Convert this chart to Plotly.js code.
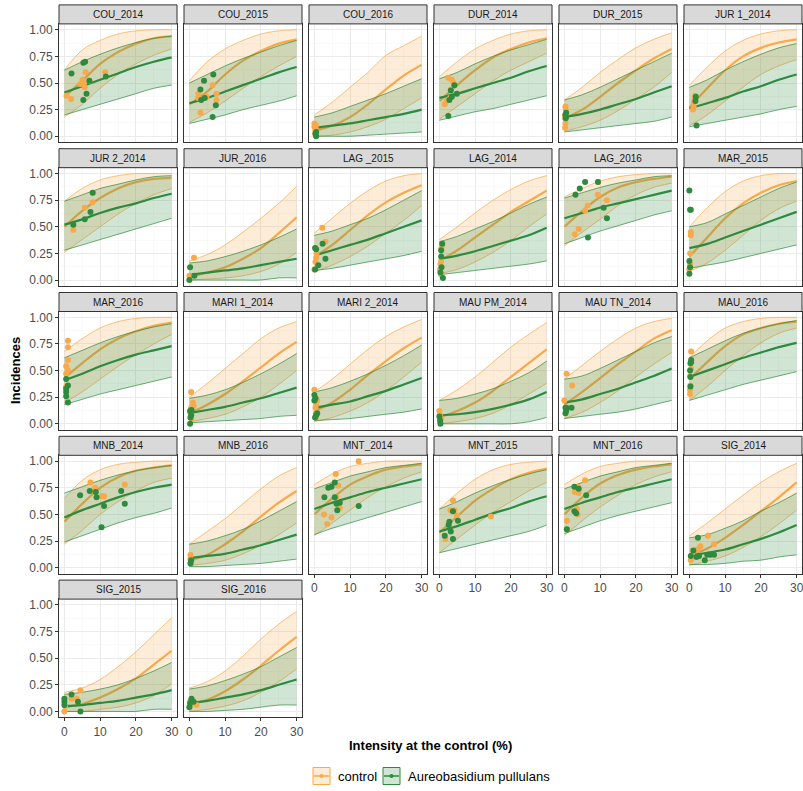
<!DOCTYPE html>
<html><head><meta charset="utf-8">
<script src="https://cdn.plot.ly/plotly-3.0.1.min.js"></script>
<style>body{margin:0;background:#fff}#chart{width:803px;height:791px}</style>
</head><body><div id="chart"></div>
<script>
const panelNames = ["COU_2014","COU_2015","COU_2016","DUR_2014","DUR_2015","JUR 1_2014","JUR 2_2014","JUR_2016","LAG _2015","LAG_2014","LAG_2016","MAR_2015","MAR_2016","MARI 1_2014","MARI 2_2014","MAU PM_2014","MAU TN_2014","MAU_2016","MNB_2014","MNB_2016","MNT_2014","MNT_2015","MNT_2016","SIG_2014","SIG_2015","SIG_2016"];
const xGrid = [0,5,10,15,20,25,30];
const xTicks = [0,10,20,30];
const yTicks = [0,0.25,0.5,0.75,1];
const yTickText = ["0.00","0.25","0.50","0.75","1.00"];
const seriesNames = ["control","Aureobasidium pullulans"];

const ctrlHi = [
[0.62,0.81,0.90,0.96,0.99,1.0,1.0],[0.52,0.70,0.82,0.90,0.96,0.99,1.0],[0.20,0.32,0.46,0.60,0.76,0.85,0.94],
[0.56,0.70,0.82,0.90,0.96,0.99,1.0],[0.34,0.46,0.60,0.72,0.83,0.91,0.97],[0.48,0.65,0.80,0.90,0.96,0.99,1.0],
[0.74,0.86,0.94,0.98,1.0,1.0,1.0],[0.18,0.24,0.33,0.45,0.58,0.72,0.88],[0.44,0.58,0.72,0.84,0.93,0.98,1.0],
[0.38,0.50,0.63,0.75,0.85,0.93,0.98],[0.78,0.86,0.93,0.97,0.99,1.0,1.0],[0.50,0.68,0.83,0.93,0.98,1.0,1.0],
[0.68,0.80,0.90,0.96,0.99,1.0,1.0],[0.25,0.38,0.52,0.66,0.80,0.90,0.96],[0.30,0.42,0.56,0.70,0.82,0.91,0.98],
[0.22,0.32,0.44,0.58,0.72,0.84,0.95],[0.42,0.55,0.68,0.80,0.90,0.96,0.99],[0.62,0.78,0.90,0.96,0.99,1.0,1.0],
[0.65,0.82,0.92,0.97,0.99,1.0,1.0],[0.22,0.34,0.46,0.60,0.74,0.86,0.94],[0.78,0.88,0.95,0.98,1.0,1.0,1.0],
[0.55,0.70,0.83,0.92,0.97,0.99,1.0],[0.78,0.88,0.95,0.98,1.0,1.0,1.0],[0.30,0.42,0.55,0.68,0.80,0.90,0.98],
[0.18,0.22,0.30,0.42,0.56,0.72,0.88],[0.22,0.28,0.38,0.52,0.68,0.82,0.94]];
const ctrlMid = [
[0.37,0.52,0.68,0.79,0.87,0.92,0.94],[0.30,0.42,0.58,0.71,0.80,0.87,0.91],[0.05,0.10,0.18,0.30,0.44,0.57,0.67],
[0.33,0.48,0.62,0.74,0.82,0.88,0.92],[0.17,0.25,0.37,0.50,0.62,0.73,0.82],[0.27,0.45,0.62,0.75,0.83,0.88,0.91],
[0.50,0.65,0.77,0.86,0.92,0.95,0.96],[0.03,0.07,0.12,0.20,0.30,0.44,0.59],[0.22,0.33,0.47,0.61,0.73,0.82,0.89],
[0.18,0.28,0.40,0.52,0.64,0.74,0.84],[0.50,0.65,0.78,0.87,0.92,0.95,0.97],[0.22,0.40,0.58,0.72,0.82,0.89,0.93],
[0.43,0.57,0.70,0.80,0.87,0.92,0.95],[0.10,0.18,0.28,0.40,0.53,0.66,0.77],[0.12,0.20,0.32,0.46,0.59,0.71,0.81],
[0.06,0.12,0.20,0.31,0.44,0.57,0.70],[0.18,0.30,0.43,0.56,0.68,0.80,0.88],[0.42,0.58,0.73,0.84,0.90,0.94,0.96],
[0.43,0.60,0.75,0.85,0.91,0.94,0.96],[0.07,0.12,0.22,0.34,0.48,0.61,0.72],[0.50,0.65,0.78,0.86,0.92,0.95,0.97],
[0.33,0.48,0.63,0.74,0.83,0.89,0.93],[0.50,0.66,0.79,0.87,0.92,0.95,0.97],[0.11,0.18,0.28,0.40,0.53,0.66,0.80],
[0.04,0.07,0.13,0.21,0.31,0.44,0.57],[0.07,0.11,0.19,0.30,0.43,0.57,0.70]];
const ctrlLo = [
[0.18,0.30,0.45,0.58,0.68,0.76,0.82],[0.13,0.22,0.33,0.45,0.56,0.66,0.75],[0.0,0.01,0.04,0.09,0.16,0.26,0.36],
[0.16,0.28,0.40,0.52,0.62,0.70,0.78],[0.05,0.09,0.15,0.24,0.35,0.46,0.60],[0.10,0.20,0.33,0.46,0.58,0.66,0.72],
[0.26,0.38,0.50,0.62,0.72,0.80,0.86],[0.0,0.01,0.02,0.04,0.08,0.15,0.26],[0.08,0.14,0.22,0.32,0.44,0.56,0.70],
[0.06,0.10,0.17,0.26,0.37,0.50,0.62],[0.32,0.45,0.57,0.70,0.80,0.87,0.91],[0.08,0.16,0.28,0.42,0.56,0.67,0.74],
[0.20,0.30,0.42,0.54,0.65,0.75,0.84],[0.02,0.05,0.09,0.16,0.25,0.37,0.50],[0.02,0.06,0.12,0.20,0.31,0.44,0.58],
[0.0,0.02,0.05,0.10,0.18,0.28,0.38],[0.05,0.11,0.20,0.31,0.44,0.56,0.67],[0.22,0.35,0.50,0.64,0.76,0.85,0.90],
[0.22,0.35,0.50,0.62,0.72,0.80,0.84],[0.02,0.04,0.07,0.13,0.21,0.31,0.42],[0.30,0.42,0.54,0.66,0.76,0.84,0.90],
[0.14,0.27,0.40,0.52,0.62,0.72,0.80],[0.30,0.44,0.57,0.68,0.78,0.85,0.90],[0.02,0.06,0.11,0.19,0.29,0.41,0.54],
[0.0,0.0,0.02,0.04,0.08,0.15,0.26],[0.0,0.02,0.05,0.10,0.18,0.28,0.40]];
const apHi = [
[0.62,0.70,0.77,0.83,0.88,0.92,0.94],[0.50,0.58,0.66,0.73,0.79,0.85,0.90],[0.18,0.22,0.28,0.34,0.40,0.47,0.54],
[0.54,0.60,0.68,0.75,0.81,0.86,0.91],[0.34,0.39,0.46,0.54,0.62,0.70,0.78],[0.46,0.53,0.62,0.70,0.77,0.83,0.87],
[0.74,0.80,0.86,0.90,0.94,0.97,0.98],[0.16,0.18,0.22,0.27,0.33,0.40,0.48],[0.42,0.46,0.52,0.58,0.66,0.75,0.84],
[0.36,0.41,0.48,0.55,0.63,0.71,0.78],[0.77,0.82,0.87,0.91,0.94,0.97,0.98],[0.50,0.54,0.62,0.70,0.78,0.86,0.92],
[0.62,0.69,0.76,0.82,0.87,0.91,0.94],[0.24,0.27,0.32,0.39,0.47,0.56,0.66],[0.30,0.34,0.40,0.47,0.55,0.64,0.74],
[0.22,0.24,0.28,0.33,0.40,0.48,0.59],[0.42,0.45,0.52,0.60,0.68,0.76,0.82],[0.62,0.70,0.78,0.85,0.90,0.94,0.97],
[0.70,0.76,0.82,0.87,0.91,0.94,0.96],[0.22,0.25,0.30,0.36,0.44,0.53,0.62],[0.74,0.80,0.86,0.90,0.94,0.96,0.98],
[0.55,0.62,0.70,0.77,0.83,0.88,0.92],[0.74,0.80,0.86,0.90,0.94,0.96,0.98],[0.28,0.31,0.37,0.44,0.53,0.61,0.70],
[0.16,0.18,0.21,0.25,0.31,0.38,0.46],[0.21,0.24,0.29,0.35,0.42,0.51,0.60]];
const apMid = [
[0.41,0.47,0.53,0.59,0.65,0.70,0.74],[0.31,0.36,0.42,0.48,0.54,0.60,0.65],[0.08,0.10,0.12,0.15,0.18,0.21,0.25],
[0.36,0.40,0.45,0.50,0.55,0.61,0.66],[0.18,0.21,0.25,0.30,0.35,0.41,0.47],[0.26,0.31,0.36,0.42,0.47,0.53,0.58],
[0.52,0.57,0.63,0.68,0.72,0.77,0.81],[0.05,0.07,0.09,0.11,0.14,0.17,0.20],[0.23,0.28,0.33,0.38,0.44,0.50,0.56],
[0.20,0.23,0.27,0.32,0.37,0.42,0.49],[0.58,0.63,0.68,0.72,0.76,0.80,0.84],[0.30,0.34,0.40,0.46,0.52,0.58,0.64],
[0.41,0.47,0.54,0.60,0.65,0.69,0.73],[0.10,0.13,0.16,0.20,0.24,0.29,0.34],[0.15,0.18,0.21,0.26,0.31,0.37,0.43],
[0.08,0.09,0.11,0.14,0.18,0.23,0.30],[0.20,0.23,0.28,0.33,0.39,0.45,0.52],[0.44,0.50,0.56,0.62,0.67,0.72,0.76],
[0.47,0.54,0.60,0.66,0.71,0.75,0.78],[0.09,0.11,0.13,0.17,0.21,0.26,0.31],[0.55,0.61,0.66,0.71,0.75,0.79,0.83],
[0.34,0.39,0.45,0.51,0.56,0.62,0.67],[0.55,0.61,0.66,0.71,0.75,0.79,0.83],[0.11,0.14,0.17,0.22,0.27,0.33,0.40],
[0.05,0.06,0.08,0.10,0.13,0.16,0.20],[0.08,0.10,0.13,0.16,0.20,0.25,0.30]];
const apLo = [
[0.20,0.25,0.30,0.35,0.40,0.45,0.48],[0.12,0.16,0.20,0.25,0.29,0.33,0.38],[0.0,0.0,0.0,0.01,0.02,0.03,0.04],
[0.15,0.19,0.23,0.26,0.30,0.34,0.38],[0.04,0.06,0.08,0.10,0.12,0.14,0.18],[0.09,0.12,0.15,0.18,0.21,0.25,0.28],
[0.28,0.33,0.38,0.43,0.48,0.53,0.58],[0.0,0.0,0.0,0.0,0.0,0.02,0.02],[0.09,0.11,0.14,0.17,0.20,0.23,0.27],
[0.05,0.07,0.09,0.11,0.13,0.15,0.18],[0.34,0.40,0.46,0.51,0.56,0.61,0.65],[0.11,0.14,0.17,0.21,0.25,0.29,0.33],
[0.18,0.23,0.28,0.32,0.36,0.40,0.44],[0.01,0.02,0.03,0.04,0.05,0.07,0.08],[0.03,0.04,0.05,0.07,0.09,0.11,0.14],
[0.0,0.0,0.0,0.0,0.0,0.02,0.06],[0.05,0.07,0.09,0.11,0.14,0.18,0.22],[0.22,0.27,0.32,0.37,0.41,0.45,0.49],
[0.24,0.30,0.36,0.42,0.47,0.51,0.56],[0.01,0.01,0.02,0.03,0.04,0.06,0.08],[0.31,0.37,0.42,0.47,0.52,0.57,0.62],
[0.14,0.18,0.22,0.26,0.30,0.34,0.40],[0.32,0.38,0.44,0.49,0.53,0.57,0.61],[0.03,0.03,0.04,0.06,0.07,0.10,0.12],
[0.0,0.0,0.0,0.0,0.0,0.02,0.02],[0.0,0.0,0.01,0.02,0.04,0.06,0.06]];

const ctrlPtsX = [
[0.6,1.9,4.5,5.1,5.5,5.7,6.0,7.0,11.4],[2.5,2.5,3.1,4.8,6.5,7.6,7.6],[0,0,0.3,0.2,0.5],[2.5,3.5,4,3,2,1.5,3.2],
[0.2,0.3,0.2,0.4,0.3,0.2],[1.5,1.3,1.2,1.0,1.6],[2.5,5.7,7.9,8.1],[1.3,0],[2.2,3.1,0.5,0.6,0,0.3],
[0.6,0.8,0.3,0.5,0.2,0.5],[9.4,6.5,9.4,11.9,4,2.9,5.8],[0.4,0.4,0.2,0.2,0],[1,1,1,0.5,1,0.5,0.5],
[0.5,1,0.5,0.3,1.2,0.5],[0,0.5,0.8,0.3,0.5,0.4],[0,0.2,0.5],[0.6,2.2,0],[0.5,0.5,0.2,0.3,0.2,0.2],
[7.3,8.6,8.6,10.4,11.1,16.9],[0.3,0.3,0.5],[12.4,6,6.7,2.7,4.8,3.6,7.1,6.2],[3.8,3.1,4.9,2.6,14.4,1.7,4.2],
[5.8,3.8,2.9,4,3.5,3.7,0.7],[5.2,6.9,2.2,3.1,0.8,0.4],[0,2,3.5,4.5,0.2],[0.3,1,2,0.2]];
const ctrlPtsY = [
[0.38,0.35,0.49,0.53,0.50,0.46,0.60,0.52,0.60],[0.40,0.36,0.22,0.37,0.48,0.40,0.34],[0.12,0.09,0.06,0.03,0.10],[0.55,0.53,0.50,0.36,0.33,0.30,0.44],
[0.08,0.12,0.17,0.25,0.28,0.20],[0.35,0.32,0.28,0.25,0.38],[0.47,0.68,0.73,0.82],[0.21,0.04],[0.49,0.36,0.21,0.25,0.10,0.17],
[0.30,0.33,0.15,0.18,0.10,0.05],[0.92,0.70,0.80,0.75,0.48,0.43,0.65],[0.45,0.42,0.25,0.15,0.10],[0.78,0.72,0.60,0.54,0.50,0.47,0.35],
[0.30,0.20,0.15,0.10,0.17,0.05],[0.32,0.18,0.22,0.15,0.06,0.10],[0.12,0.08,0.05],[0.47,0.36,0.22],[0.68,0.52,0.45,0.36,0.28,0.32],
[0.80,0.75,0.72,0.67,0.67,0.78],[0.12,0.08,0.05],[1.0,0.88,0.77,0.50,0.47,0.41,0.56,0.66],[0.63,0.54,0.49,0.41,0.48,0.27,0.54],
[0.82,0.76,0.71,0.70,0.55,0.50,0.44],[0.30,0.22,0.17,0.20,0.12,0.07],[0.0,0.12,0.12,0.20,0.05],[0.10,0.08,0.06,0.05]];
const apPtsX = [
[2.0,5.3,5.8,6.2,5.3,7.0,11.6],[3.1,4.1,6.7,7.4,6.5,3.3,4.3],[0.5,0.3,0.5],[4.2,2.8,2.5,4.9,3.5,3.2],
[0.3,0.4,0.5],[1.8,2.0,1.7],[2.5,5.7,7.3,7.9],[0.2,0,1.4],[0.2,0.5,2.3,3.1,1.1,0.2],
[0.8,0.5,0.6,0.3,1.0,0.5],[3.1,4.3,5.8,9.4,11,11.9,6.6],[0,0.2,0.4,0,0,0.2],[0.5,1,0.5,0.5,0.5,1],
[0.2,0.5,0.3,0.2,0.6],[0,0.3,0,0.5,0.2,0.8],[0,0.2,0.3],[0.3,0.5,0.3,2,0.6],[0.5,0.3,0.2,0.3,0.3,0.5],
[4.4,7.1,8.8,9,11.1,10.4,15.9,16.9],[0.3,0.5],[3.9,4.8,5.7,2.8,5.7,6.2,7.1,12.4,6.4],[3.8,5.2,2.8,3.2,1.5,3.8,2.6],
[2.8,4,6.1,2.8,3.3,0.7],[2.4,1.1,2.7,5,5.9,6.9,4.3,0.4,2],[0,2,0,0,4.5,3.8],[0,0.6,1.2,0.2]];
const apPtsY = [
[0.59,0.69,0.70,0.40,0.34,0.52,0.56],[0.44,0.52,0.58,0.29,0.18,0.34,0.36],[0.0,0.02,0.04],[0.48,0.34,0.19,0.40,0.37,0.43],
[0.20,0.17,0.22],[0.37,0.10,0.33],[0.52,0.57,0.64,0.82],[0.12,0.0,0.04],[0.30,0.29,0.34,0.20,0.14,0.10],
[0.34,0.22,0.12,0.07,0.02,0.28],[0.80,0.86,0.92,0.92,0.68,0.58,0.40],[0.84,0.66,0.66,0.18,0.06,0.12],[0.42,0.36,0.33,0.30,0.26,0.20],
[0.12,0.08,0.06,0.0,0.13],[0.27,0.24,0.22,0.08,0.06,0.10],[0.07,0.03,0.0],[0.15,0.12,0.10,0.15,0.15],[0.60,0.57,0.50,0.44,0.35,0.58],
[0.68,0.72,0.71,0.66,0.58,0.38,0.72,0.60],[0.04,0.07],[0.75,0.76,0.80,0.66,0.66,0.60,0.61,0.58,0.54],[0.53,0.44,0.43,0.34,0.30,0.27,0.40],
[0.76,0.74,0.68,0.53,0.51,0.36],[0.28,0.16,0.11,0.12,0.12,0.12,0.07,0.11,0.10],[0.12,0.16,0.09,0.06,0.0,0.09],[0.04,0.12,0.09,0.08]];

// ---- styling / layout ----
const W = 803, H = 791;
const ORANGE = '#F7A94B', GREEN = '#2E8A3E';
const ORANGE_FILL = 'rgba(247,169,75,0.22)', GREEN_FILL = 'rgba(46,138,62,0.22)';
const FONT = 'Liberation Sans, Arial, sans-serif';
const NCOL = 6;
const colLeft = c => 59 + 125 * c, panelW = 118;
const rowTop = r => 23.9 + 143.8 * r, panelH = 118.2, stripH = 19;
const fx = p => p / W, fy = p => 1 - p / H;

const traces = [], shapes = [], annotations = [];
const layout = {
  width: W, height: H, margin: {l:0, r:0, t:0, b:0},
  paper_bgcolor: '#fff', plot_bgcolor: '#fff', showlegend: false,
  font: {family: FONT, color: '#4D4D4D'}
};
const n = panelNames.length;
panelNames.forEach((name, i) => {
  const r = Math.floor(i / NCOL), c = i % NCOL, k = i + 1;
  const xa = 'x' + (k === 1 ? '' : k), ya = 'y' + (k === 1 ? '' : k);
  const xl = colLeft(c), yt = rowTop(r);
  const bottomOfCol = (i + NCOL) >= n;
  const leftCol = c === 0;
  layout['xaxis' + (k === 1 ? '' : k)] = {
    domain: [fx(xl), fx(xl + panelW)], anchor: ya, range: [-1.5, 31.5],
    tickvals: xTicks, showticklabels: bottomOfCol, ticks: bottomOfCol ? 'outside' : '',
    ticklen: 3, tickcolor: '#333', tickfont: {size: 12, color: '#4D4D4D', family: FONT},
    ticklabeloverflow: 'allow',
    showgrid: true, gridcolor: '#EBEBEB', gridwidth: 1, zeroline: false,
    minor: {tickvals: [5,15,25], showgrid: true, gridcolor: '#F4F4F4', gridwidth: 0.5, ticks: ''},
    showline: true, mirror: true, linecolor: '#333', linewidth: 1, fixedrange: true
  };
  layout['yaxis' + (k === 1 ? '' : k)] = {
    domain: [fy(yt + panelH), fy(yt)], anchor: xa, range: [-0.055, 1.055],
    tickvals: yTicks, ticktext: yTickText, showticklabels: leftCol, ticks: leftCol ? 'outside' : '',
    ticklen: 3, tickcolor: '#333', tickfont: {size: 12, color: '#4D4D4D', family: FONT},
    ticklabeloverflow: 'allow',
    showgrid: true, gridcolor: '#EBEBEB', gridwidth: 1, zeroline: false,
    minor: {tickvals: [0.125,0.375,0.625,0.875], showgrid: true, gridcolor: '#F4F4F4', gridwidth: 0.5, ticks: ''},
    showline: true, mirror: true, linecolor: '#333', linewidth: 1, fixedrange: true
  };
  const base = {xaxis: xa, yaxis: ya, hoverinfo: 'skip', type: 'scatter'};
  // control ribbon
  traces.push(Object.assign({}, base, {x: xGrid, y: ctrlLo[i], mode: 'lines', line: {color: ORANGE, width: 0.7, shape: 'spline'}}));
  traces.push(Object.assign({}, base, {x: xGrid, y: ctrlHi[i], mode: 'lines', fill: 'tonexty', fillcolor: ORANGE_FILL, line: {color: ORANGE, width: 0.7, shape: 'spline'}}));
  traces.push(Object.assign({}, base, {x: xGrid, y: ctrlMid[i], mode: 'lines', line: {color: ORANGE, width: 2.2, shape: 'spline'}}));
  // AP ribbon
  traces.push(Object.assign({}, base, {x: xGrid, y: apLo[i], mode: 'lines', line: {color: GREEN, width: 0.7, shape: 'spline'}}));
  traces.push(Object.assign({}, base, {x: xGrid, y: apHi[i], mode: 'lines', fill: 'tonexty', fillcolor: GREEN_FILL, line: {color: GREEN, width: 0.7, shape: 'spline'}}));
  traces.push(Object.assign({}, base, {x: xGrid, y: apMid[i], mode: 'lines', line: {color: GREEN, width: 2.2, shape: 'spline'}}));
  // points
  traces.push(Object.assign({}, base, {x: ctrlPtsX[i], y: ctrlPtsY[i], mode: 'markers', marker: {color: ORANGE, size: 6}, cliponaxis: false}));
  traces.push(Object.assign({}, base, {x: apPtsX[i], y: apPtsY[i], mode: 'markers', marker: {color: GREEN, size: 6}, cliponaxis: false}));
  // strip
  shapes.push({type: 'rect', xref: 'paper', yref: 'paper', x0: fx(xl), x1: fx(xl + panelW), y0: fy(yt), y1: fy(yt - stripH),
    fillcolor: '#D9D9D9', line: {color: '#333', width: 1}, layer: 'above'});
  annotations.push({xref: 'paper', yref: 'paper', x: fx(xl + panelW / 2), y: fy(yt - stripH / 2), text: name, showarrow: false,
    xanchor: 'center', yanchor: 'middle', font: {size: 10, color: '#1A1A1A', family: FONT}});
});
// axis titles
annotations.push({xref: 'paper', yref: 'paper', x: fx(430), y: fy(745), text: '<b>Intensity at the control (%)</b>', showarrow: false,
  xanchor: 'center', yanchor: 'middle', font: {size: 13, color: '#000', family: FONT}});
annotations.push({xref: 'paper', yref: 'paper', x: fx(15), y: fy(371), text: '<b>Incidences</b>', showarrow: false, textangle: -90,
  xanchor: 'center', yanchor: 'middle', font: {size: 13, color: '#000', family: FONT}});
// legend (drawn as keys)
const legendKeys = [{x: 313, color: ORANGE, fill: ORANGE_FILL, label: seriesNames[0]}, {x: 383, color: GREEN, fill: GREEN_FILL, label: seriesNames[1]}];
legendKeys.forEach(L => {
  const yc = 776;
  shapes.push({type: 'rect', xref: 'paper', yref: 'paper', x0: fx(L.x), x1: fx(L.x + 17), y0: fy(yc + 8.5), y1: fy(yc - 8.5),
    fillcolor: L.fill, line: {color: L.color, width: 1}});
  shapes.push({type: 'line', xref: 'paper', yref: 'paper', x0: fx(L.x + 1), x1: fx(L.x + 16), y0: fy(yc), y1: fy(yc), line: {color: L.color, width: 1.5}});
  shapes.push({type: 'circle', xref: 'paper', yref: 'paper', x0: fx(L.x + 6.5), x1: fx(L.x + 10.5), y0: fy(yc + 2), y1: fy(yc - 2),
    fillcolor: L.color, line: {color: L.color, width: 0}});
  annotations.push({xref: 'paper', yref: 'paper', x: fx(L.x + 23), y: fy(yc), text: L.label, showarrow: false, xanchor: 'left', yanchor: 'middle',
    font: {size: 13, color: '#000', family: FONT}});
});
layout.shapes = shapes;
layout.annotations = annotations;
Plotly.newPlot('chart', traces, layout, {staticPlot: true, displayModeBar: false});
</script>
</body></html>
